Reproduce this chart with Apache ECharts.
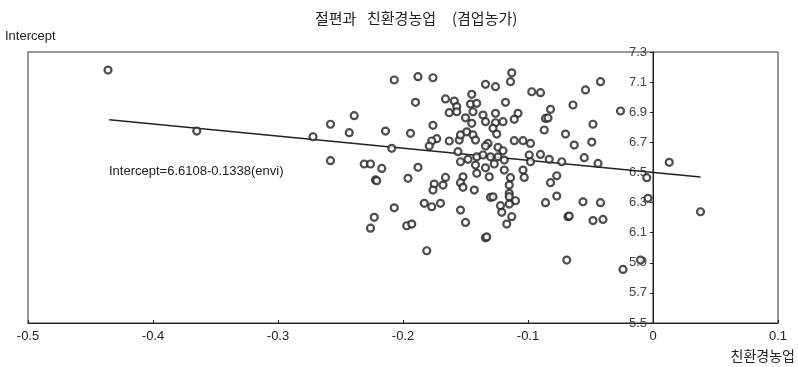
<!DOCTYPE html>
<html>
<head>
<meta charset="utf-8">
<script src="https://cdn.jsdelivr.net/npm/echarts@6/dist/echarts.min.js"></script>
<style>
  html, body { margin: 0; padding: 0; background: #fff; }
  #chart { width: 798px; height: 367px; }
</style>
</head>
<body>
<div id="chart"></div>
<script>
// x: 친환경농업 (envi), y: Intercept
const envi = [
  -0.436, -0.365, -0.272, -0.258, -0.239, -0.243, -0.258, -0.231, -0.226, -0.226,
  -0.207, -0.188, -0.176, -0.190, -0.166, -0.159, -0.145, -0.157, -0.163, -0.157,
  -0.146, -0.141, -0.144, -0.150, -0.145, -0.214, -0.194, -0.176, -0.173, -0.177,
  -0.179, -0.163, -0.155, -0.154, -0.149, -0.144, -0.142, -0.209, -0.156, -0.154,
  -0.148, -0.142, -0.141, -0.217, -0.188, -0.196, -0.222, -0.221, -0.166, -0.168,
  -0.175, -0.176, -0.152, -0.154, -0.152, -0.143, -0.183, -0.177, -0.170, -0.207,
  -0.223, -0.197, -0.193, -0.154, -0.150, -0.181,
  -0.113, -0.114, -0.134, -0.126, -0.097, -0.090, -0.054, -0.042, -0.118, -0.082,
  -0.064, -0.126, -0.108, -0.111, -0.086, -0.084, -0.048, -0.136, -0.134, -0.126,
  -0.120, -0.087, -0.070, -0.128, -0.125, -0.111, -0.104, -0.098, -0.063, -0.049,
  -0.132, -0.134, -0.124, -0.120, -0.141, -0.136, -0.130, -0.124, -0.119, -0.099,
  -0.090, -0.098, -0.083, -0.073, -0.055, -0.044, -0.134, -0.127, -0.131, -0.119,
  -0.104, -0.103, -0.114, -0.115, -0.077, -0.082, -0.115, -0.115, -0.130, -0.128,
  -0.110, -0.115, -0.122, -0.077, -0.086, -0.056, -0.042, -0.121, -0.113, -0.117,
  -0.068, -0.067, -0.048, -0.040, -0.134, -0.133, -0.069,
  -0.026, 0.013, -0.005, -0.004, 0.038, -0.010, -0.024
];
const intercept = [
  7.180, 6.775, 6.737, 6.820, 6.877, 6.764, 6.578, 6.556, 6.556, 6.130,
  7.114, 7.136, 7.129, 6.966, 6.988, 6.974, 7.019, 6.937, 6.897, 6.903,
  6.954, 6.959, 6.903, 6.863, 6.826, 6.775, 6.760, 6.813, 6.724, 6.709,
  6.675, 6.709, 6.715, 6.749, 6.770, 6.749, 6.715, 6.660, 6.638, 6.571,
  6.587, 6.549, 6.494, 6.527, 6.534, 6.461, 6.450, 6.445, 6.467, 6.416,
  6.423, 6.383, 6.471, 6.432, 6.401, 6.383, 6.295, 6.272, 6.295, 6.265,
  6.202, 6.146, 6.157, 6.250, 6.168, 5.980,
  7.162, 7.103, 7.085, 7.070, 7.036, 7.030, 7.048, 7.103, 6.966, 6.919,
  6.948, 6.893, 6.893, 6.853, 6.859, 6.862, 6.820, 6.881, 6.837, 6.830,
  6.837, 6.782, 6.755, 6.793, 6.755, 6.711, 6.711, 6.693, 6.682, 6.702,
  6.693, 6.675, 6.667, 6.644, 6.604, 6.616, 6.604, 6.604, 6.582, 6.616,
  6.620, 6.571, 6.587, 6.571, 6.598, 6.560, 6.531, 6.556, 6.471, 6.516,
  6.516, 6.467, 6.465, 6.416, 6.478, 6.432, 6.361, 6.339, 6.335, 6.338,
  6.312, 6.290, 6.279, 6.343, 6.299, 6.305, 6.299, 6.235, 6.206, 6.157,
  6.206, 6.210, 6.180, 6.188, 6.066, 6.072, 5.918,
  6.908, 6.567, 6.465, 6.328, 6.239, 5.918, 5.856
];
// fitted line as drawn
const fitX = [-0.435, 0.038];
const fitY = [6.85, 6.47];
const fitLabel = 'Intercept=6.6108-0.1338(envi)';
const yMin = 5.5;
const yMax = 7.3;

const latin = '"Liberation Sans", Arial, sans-serif';
const hangul = '"Noto Sans CJK KR", sans-serif';

const chart = echarts.init(document.getElementById('chart'));
const titleWord = { fontFamily: hangul, fontSize: 15, color: '#222' };
const yRange = { type: 'value', min: yMin, max: yMax, interval: 0.2, splitLine: { show: false } };
const option = {
  animation: false,
  backgroundColor: '#fff',
  title: {
    text: '{a|절편과}{b|친환경농업}{c|(겸업농가)}',
    left: 310,
    top: 6,
    textStyle: {
      fontFamily: hangul,
      fontSize: 15,
      fontWeight: 'normal',
      color: '#222',
      rich: {
        a: Object.assign({ width: 52 }, titleWord),
        b: Object.assign({ width: 85 }, titleWord),
        c: titleWord
      }
    }
  },
  grid: {
    left: 28,
    right: 20,
    top: 52,
    bottom: 44,
    show: true,
    borderColor: '#333',
    borderWidth: 1
  },
  xAxis: {
    type: 'value',
    min: -0.5,
    max: 0.1,
    interval: 0.1,
    splitLine: { show: false },
    axisLine: { show: true, onZero: false, lineStyle: { color: '#222' } },
    axisTick: { show: true, inside: true, length: 3, lineStyle: { color: '#222' } },
    axisLabel: {
      margin: 7,
      color: '#222',
      fontFamily: latin,
      fontSize: 13,
      formatter: function(v) {
        return Math.abs(v) < 1e-9 ? '0' : +v.toFixed(1) + '';
      }
    }
  },
  yAxis: [
    Object.assign({}, yRange, {
      // line and ticks at x = 0
      position: 'left',
      axisLine: { show: true, onZero: true, lineStyle: { color: '#222' } },
      axisTick: { show: true, length: 3, lineStyle: { color: '#222' } },
      axisLabel: { show: false }
    }),
    Object.assign({}, yRange, {
      // labels read from the right edge, placed left of x = 0
      position: 'right',
      axisLine: { show: false, onZero: false },
      axisTick: { show: false },
      axisLabel: {
        inside: true,
        margin: 131,
        color: '#444',
        fontFamily: latin,
        fontSize: 13,
        formatter: function(v) {
          return v.toFixed(1);
        }
      }
    })
  ],
  graphic: [
    {
      type: 'text',
      left: 5,
      top: 30,
      style: { text: 'Intercept', fontFamily: latin, fontSize: 13, fill: '#222' }
    },
    {
      type: 'text',
      right: 3,
      top: 349,
      style: { text: '친환경농업', fontFamily: hangul, fontSize: 14, fill: '#222' }
    },
    {
      type: 'text',
      left: 109,
      top: 165,
      style: { text: fitLabel, fontFamily: latin, fontSize: 13, fill: '#222' }
    }
  ],
  series: [
    {
      // vertical reference line at envi = 0
      type: 'line',
      data: [[0, yMin], [0, yMax]],
      showSymbol: false,
      symbol: 'none',
      silent: true,
      lineStyle: { color: '#222', width: 1 },
      z: 1
    },
    {
      type: 'line',
      data: fitX.map(function(x, i) { return [x, fitY[i]]; }),
      showSymbol: false,
      symbol: 'none',
      lineStyle: { color: '#222', width: 1.6 },
      z: 2
    },
    {
      type: 'scatter',
      data: envi.map(function(x, i) { return [x, intercept[i]]; }),
      symbol: 'circle',
      symbolSize: 7,
      itemStyle: { color: '#fff', borderColor: '#222', borderWidth: 2.2 },
      z: 3
    }
  ]
};
chart.setOption(option);

window.onresize = function() {
  chart.resize();
};
</script>
</body>
</html>
